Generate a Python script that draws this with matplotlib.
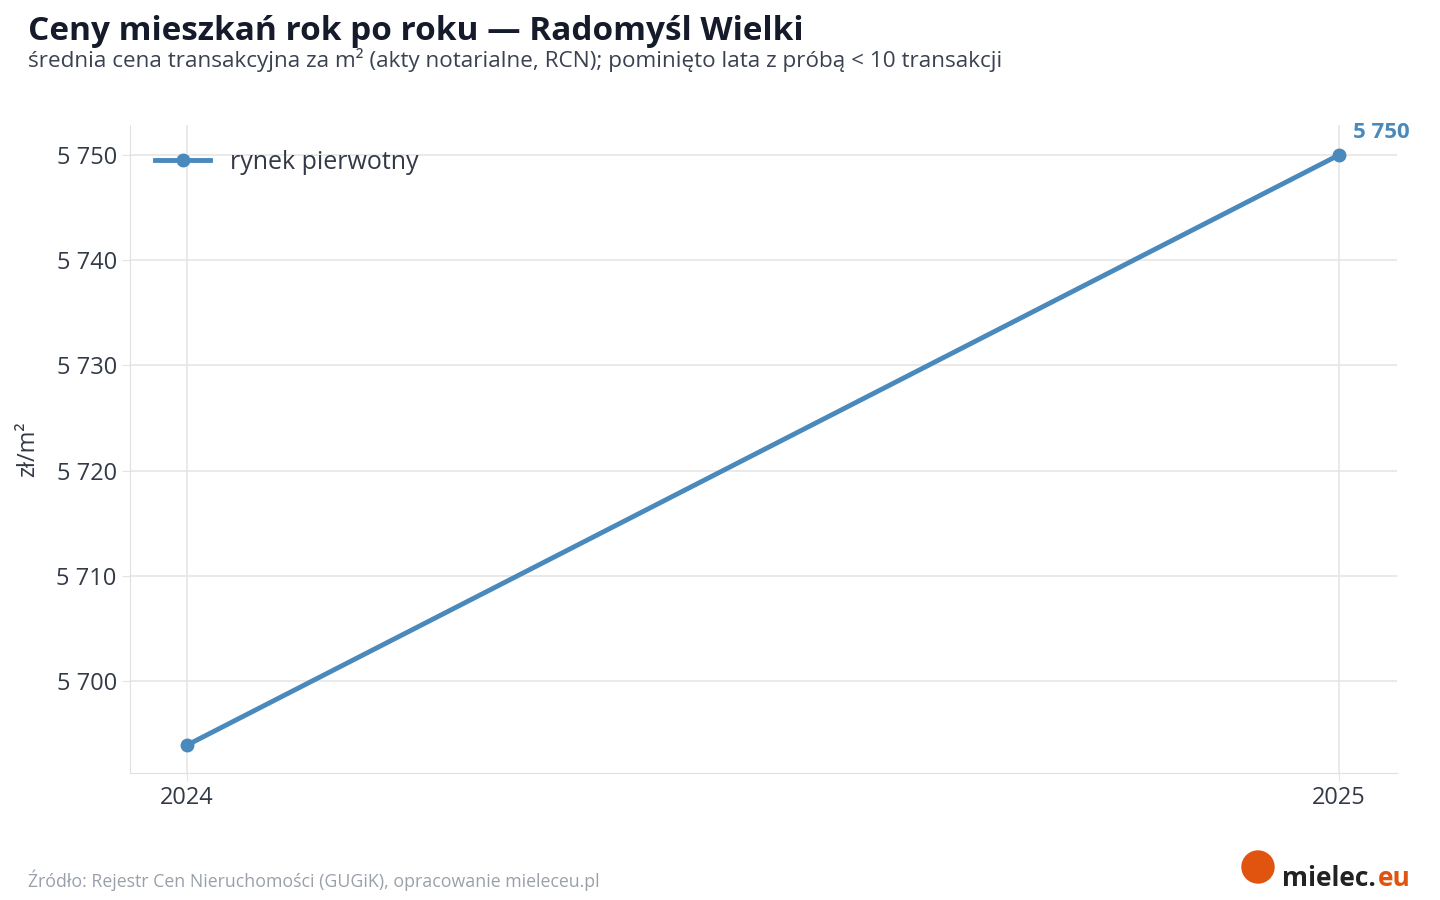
import matplotlib
matplotlib.use("Agg")
import matplotlib.pyplot as plt
from matplotlib.patches import Ellipse

plt.rcParams['font.family'] = ['Open Sans', 'DejaVu Sans']

years = [2024, 2025]
prices = [5693.9, 5750]
series_label = "rynek pierwotny"
yticks = [5700, 5710, 5720, 5730, 5740, 5750]
ytick_labels = ["5 700", "5 710", "5 720", "5 730", "5 740", "5 750"]

color = "#4a89bb"
fig = plt.figure(figsize=(14.4, 9), dpi=100)
ax = fig.add_axes([130/1440, 1-773/900, 1267/1440, 648/900])
ax.plot(years, prices, color=color, lw=3.5, marker='o', ms=9, label=series_label)
ax.set_xlim(2024 - 57/1152, 2025 + 58/1152)
ax.set_ylim(5691.25, 5752.85)
ax.set_xticks(years)
ax.set_xticklabels([str(y) for y in years])
ax.set_yticks(yticks)
ax.set_yticklabels(ytick_labels)
ax.tick_params(labelsize=17, colors="#333a47", length=6, color="#e3e3e3")
ax.grid(True, color="#e6e6e6", lw=1.2)
ax.set_axisbelow(True)
for s in ['top', 'right']:
    ax.spines[s].set_visible(False)
for s in ['left', 'bottom']:
    ax.spines[s].set_color("#e0e0e0")
ax.set_ylabel("zł/m²", fontsize=17, color="#333a47", labelpad=12)
ax.annotate("5 750", (years[-1], prices[-1]), xytext=(10, 12), textcoords='offset points',
            fontsize=16, fontweight='bold', color=color)
leg = ax.legend(loc='upper left', frameon=False, fontsize=18, handlelength=2.2,
                borderaxespad=0.6)
for t in leg.get_texts():
    t.set_color("#333a47")

fig.text(28/1440, 1-32/900, "Ceny mieszkań rok po roku — Radomyśl Wielki", fontsize=24,
         fontweight='bold', color="#151b2b", va='center')
fig.text(28/1440, 1-60/900, "średnia cena transakcyjna za m² (akty notarialne, RCN); pominięto lata z próbą < 10 transakcji",
         fontsize=16.2, color="#3a4150", va='center')
fig.text(28/1440, 1-880/900, "Źródło: Rejestr Cen Nieruchomości (GUGiK), opracowanie mieleceu.pl",
         fontsize=12.8, color="#9aa0aa", va='center')
fig.patches.append(Ellipse((1258/1440, 1-867/900), 32/1440, 32/900, transform=fig.transFigure,
                           color="#e0540f", zorder=5))
fig.text(1282/1440, 1-878/900, "mielec.", fontsize=19, fontweight='bold', color="#222222", va='center')
fig.text(1378/1440, 1-878/900, "eu", fontsize=19, fontweight='bold', color="#e0540f", va='center')
fig.savefig("out.png", dpi=100)
